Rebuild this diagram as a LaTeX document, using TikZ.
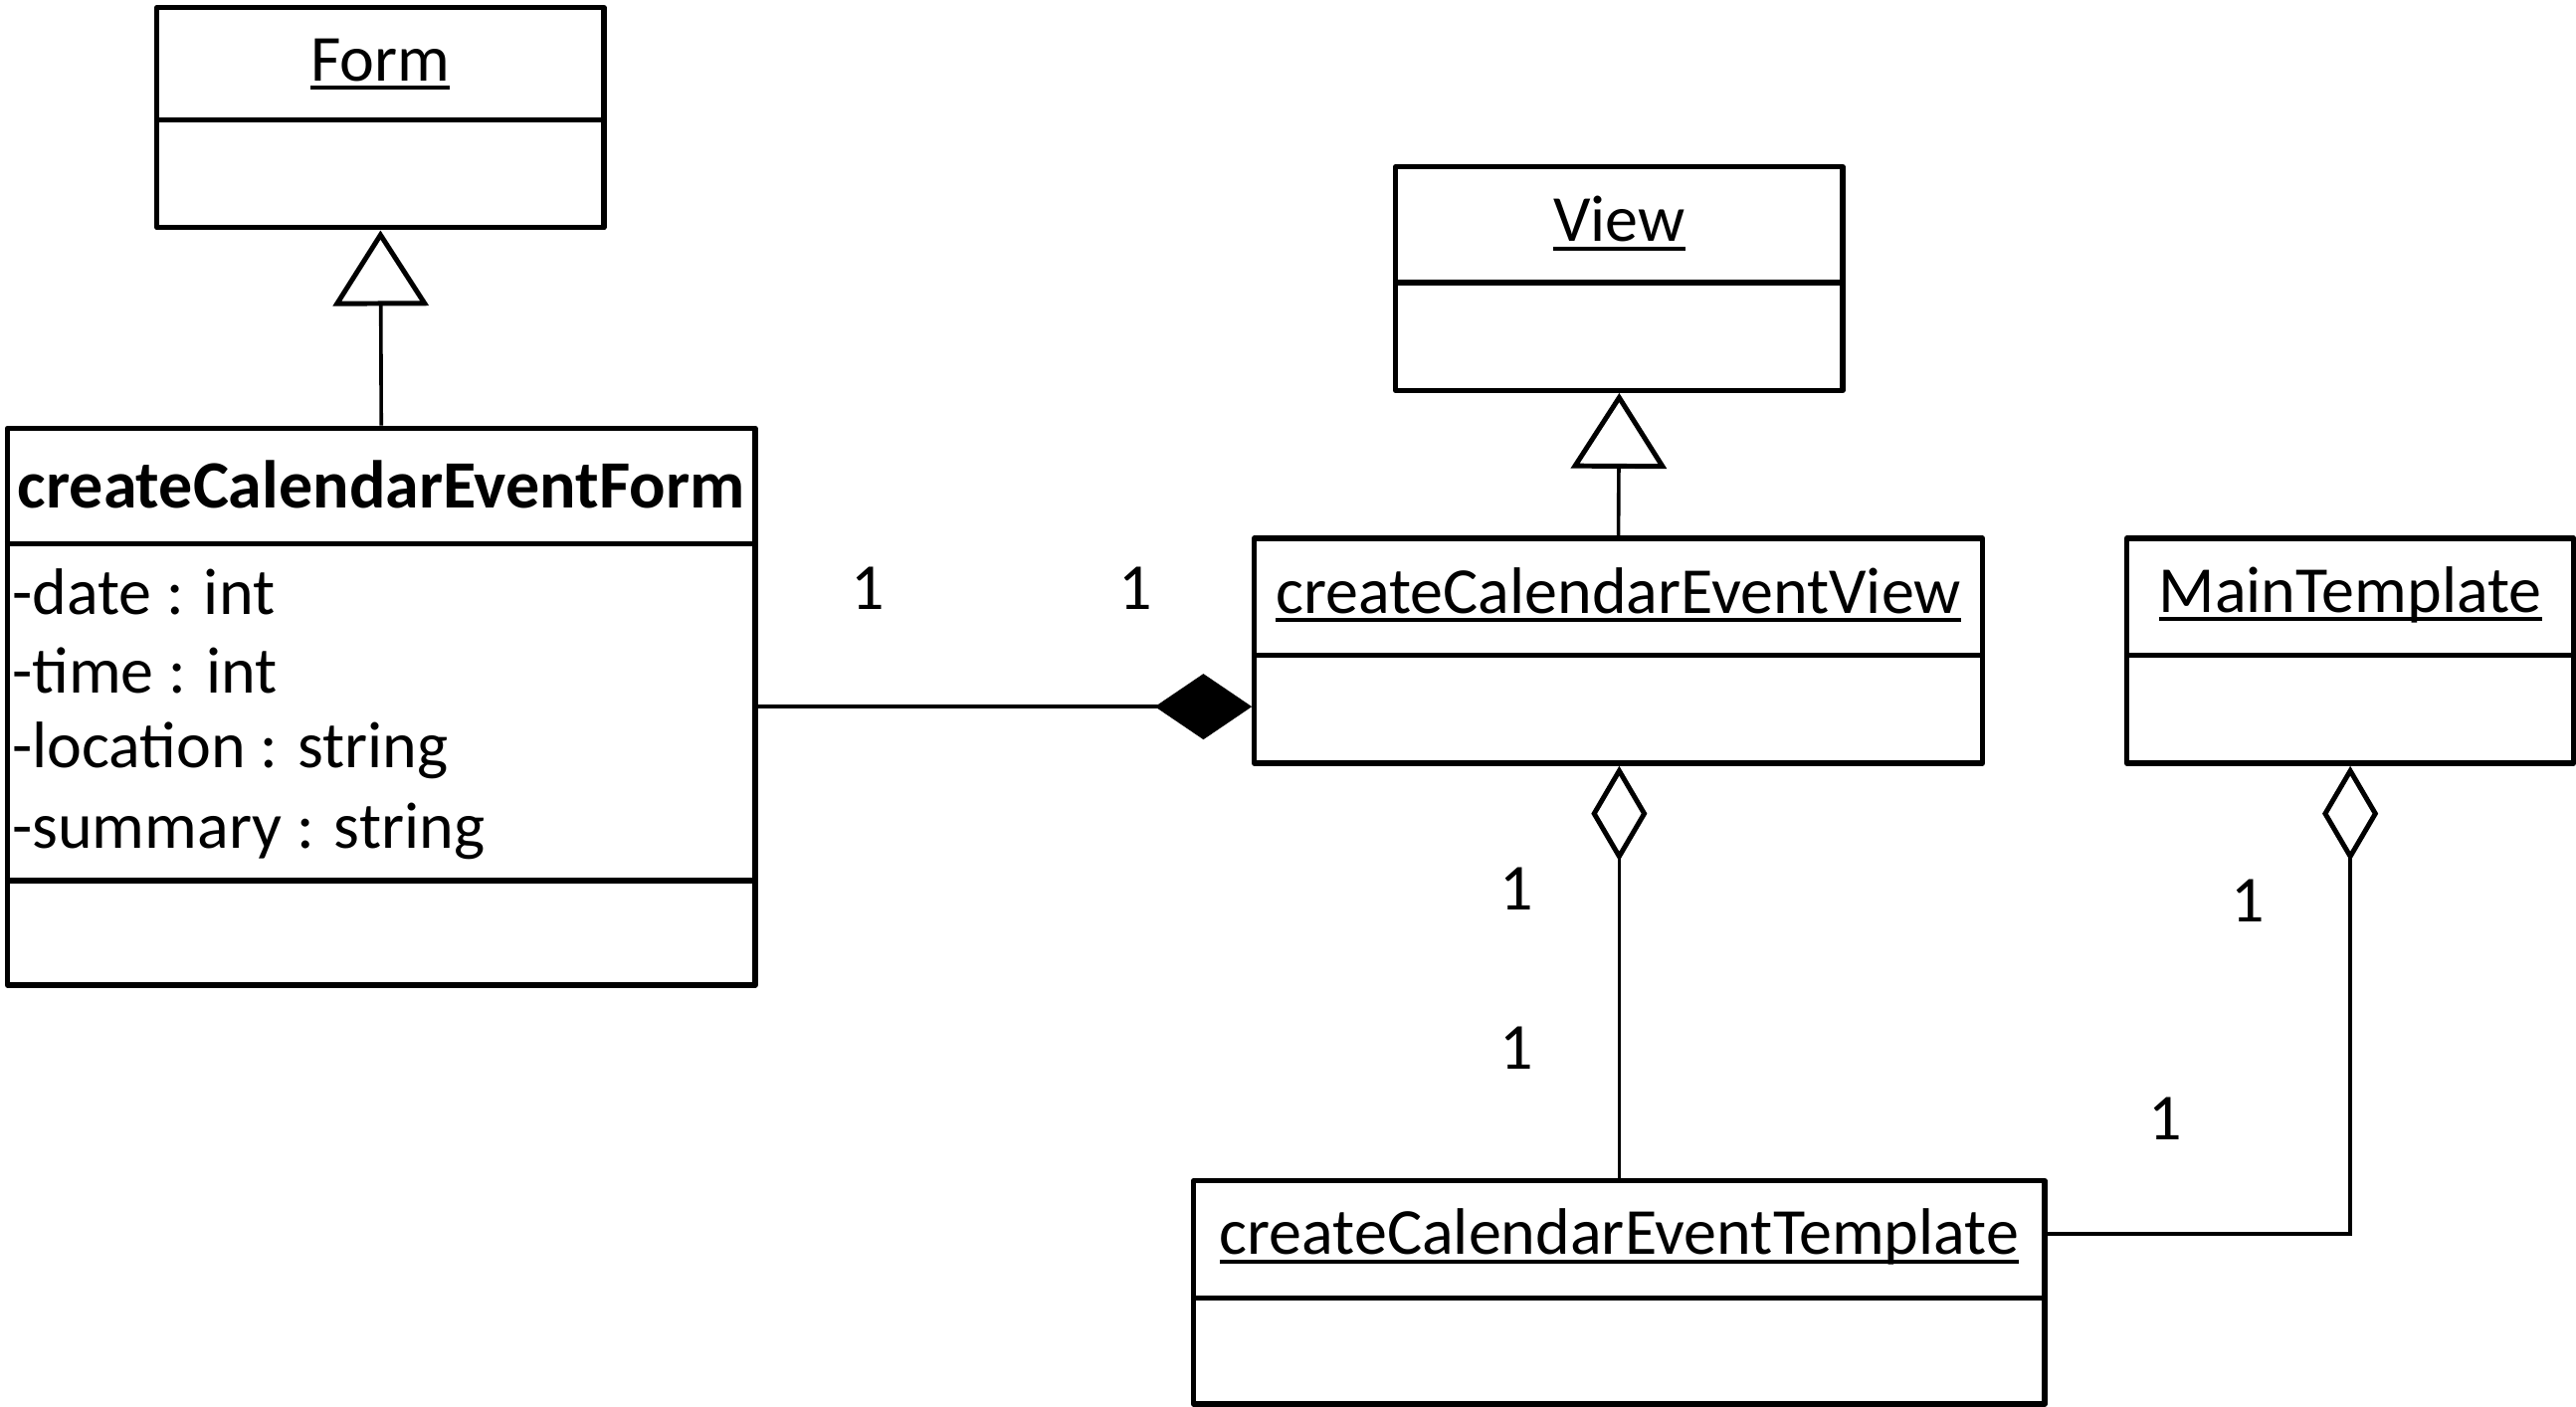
\documentclass[tikz,border=0pt]{standalone}
\usepackage{fontspec}
\setmainfont{Carlito}
\usetikzlibrary{arrows.meta,calc}
\newcommand\uln[1]{\setbox0\hbox{#1}\rlap{\rule[-2.6pt]{\wd0}{1.1pt}}\box0}
\begin{document}
\begin{tikzpicture}[x=0.5pt,y=-0.5pt,
  cls/.style={draw,line width=1.6pt,line join=round,inner sep=0pt,anchor=north west},
  ttl/.style={font=\fontsize{20}{24}\selectfont,inner sep=0pt},
  attr/.style={font=\fontsize{20}{24}\selectfont,inner sep=0pt,anchor=west},
  mult/.style={font=\fontsize{20}{24}\selectfont,inner sep=0pt},
  conn/.style={line width=1.1pt},
  gen/.style={conn,-{Triangle[open,length=23pt,width=29pt,line width=1.5pt]}},
  comp/.style={conn,-{Diamond[length=29.5pt,width=20pt]}},
  aggr/.style={conn,-{Diamond[open,length=29pt,width=17pt,line width=1.5pt]}}]
\useasboundingbox (0,0) rectangle (1568,856);

% Form
\node[cls,minimum width=136pt,minimum height=67pt] (form) at (94,3) {};
\draw[line width=1.6pt] ($(form.north west)+(0,70)$) -- ($(form.north east)+(0,70)$);
\node[ttl] (formt) at ($(form.north)+(0,36)$) {\uln{Form}};

% createCalendarEventForm
\node[cls,minimum width=227.5pt,minimum height=169.5pt] (cef) at (3,259) {};
\draw[line width=1.6pt] ($(cef.north west)+(0,72)$) -- ($(cef.north east)+(0,72)$);
\draw[line width=1.6pt] ($(cef.north west)+(0,277)$) -- ($(cef.north east)+(0,277)$);
\node[ttl,font=\fontsize{20.6}{24}\selectfont\bfseries] (ceft) at ($(cef.north)+(0,36)$) {createCalendarEventForm};
\node[attr] (a1) at (7,360) {-date : int};
\node[attr] (a2) at (7,408) {-time : int};
\node[attr] (a3) at (7,457) {-location : string};
\node[attr] (a4) at (7,506) {-summary : string};

% View
\node[cls,minimum width=136pt,minimum height=68pt] (view) at (848,100) {};
\draw[line width=1.6pt] ($(view.north west)+(0,72)$) -- ($(view.north east)+(0,72)$);
\node[ttl] (viewt) at ($(view.north)+(0,36)$) {\uln{View}};

% createCalendarEventView
\node[cls,minimum width=221.5pt,minimum height=68.5pt] (cev) at (762,326) {};
\draw[line width=1.6pt] ($(cev.north west)+(0,73)$) -- ($(cev.north east)+(0,73)$);
\node[ttl] (cevt) at ($(cev.north)+(0,36)$) {\uln{createCalendarEventView}};

% MainTemplate
\node[cls,minimum width=136pt,minimum height=68.5pt] (main) at (1293,326) {};
\draw[line width=1.6pt] ($(main.north west)+(0,73)$) -- ($(main.north east)+(0,73)$);
\node[ttl] (maint) at ($(main.north)+(0,36)$) {\uln{MainTemplate}};

% createCalendarEventTemplate
\node[cls,minimum width=259pt,minimum height=68pt] (tmpl) at (725,717) {};
\draw[line width=1.6pt] ($(tmpl.north west)+(0,73)$) -- ($(tmpl.north east)+(0,73)$);
\node[ttl] (tmplt) at ($(tmpl.north)+(0,36)$) {\uln{createCalendarEventTemplate}};

% connectors
\draw[gen] (cef.north) -- (form.south);
\draw[gen] (cev.north) -- (view.south);
\draw[comp] (cef.east) -- (cef.east -| cev.west);
\draw[aggr] (tmpl.north) -- (tmpl.north |- cev.south);
\coordinate (tj) at ($(tmpl.north east)+(0,34)$);
\draw[aggr] (tj) -- (tj -| main.south) -- (main.south);

% multiplicities
\node[mult] (m1) at (528,358) {1};
\node[mult] (m2) at (691,358) {1};
\node[mult] (m3) at (923,541) {1};
\node[mult] (m4) at (923,638) {1};
\node[mult] (m5) at (1368,548) {1};
\node[mult] (m6) at (1318,681) {1};
\end{tikzpicture}
\end{document}
